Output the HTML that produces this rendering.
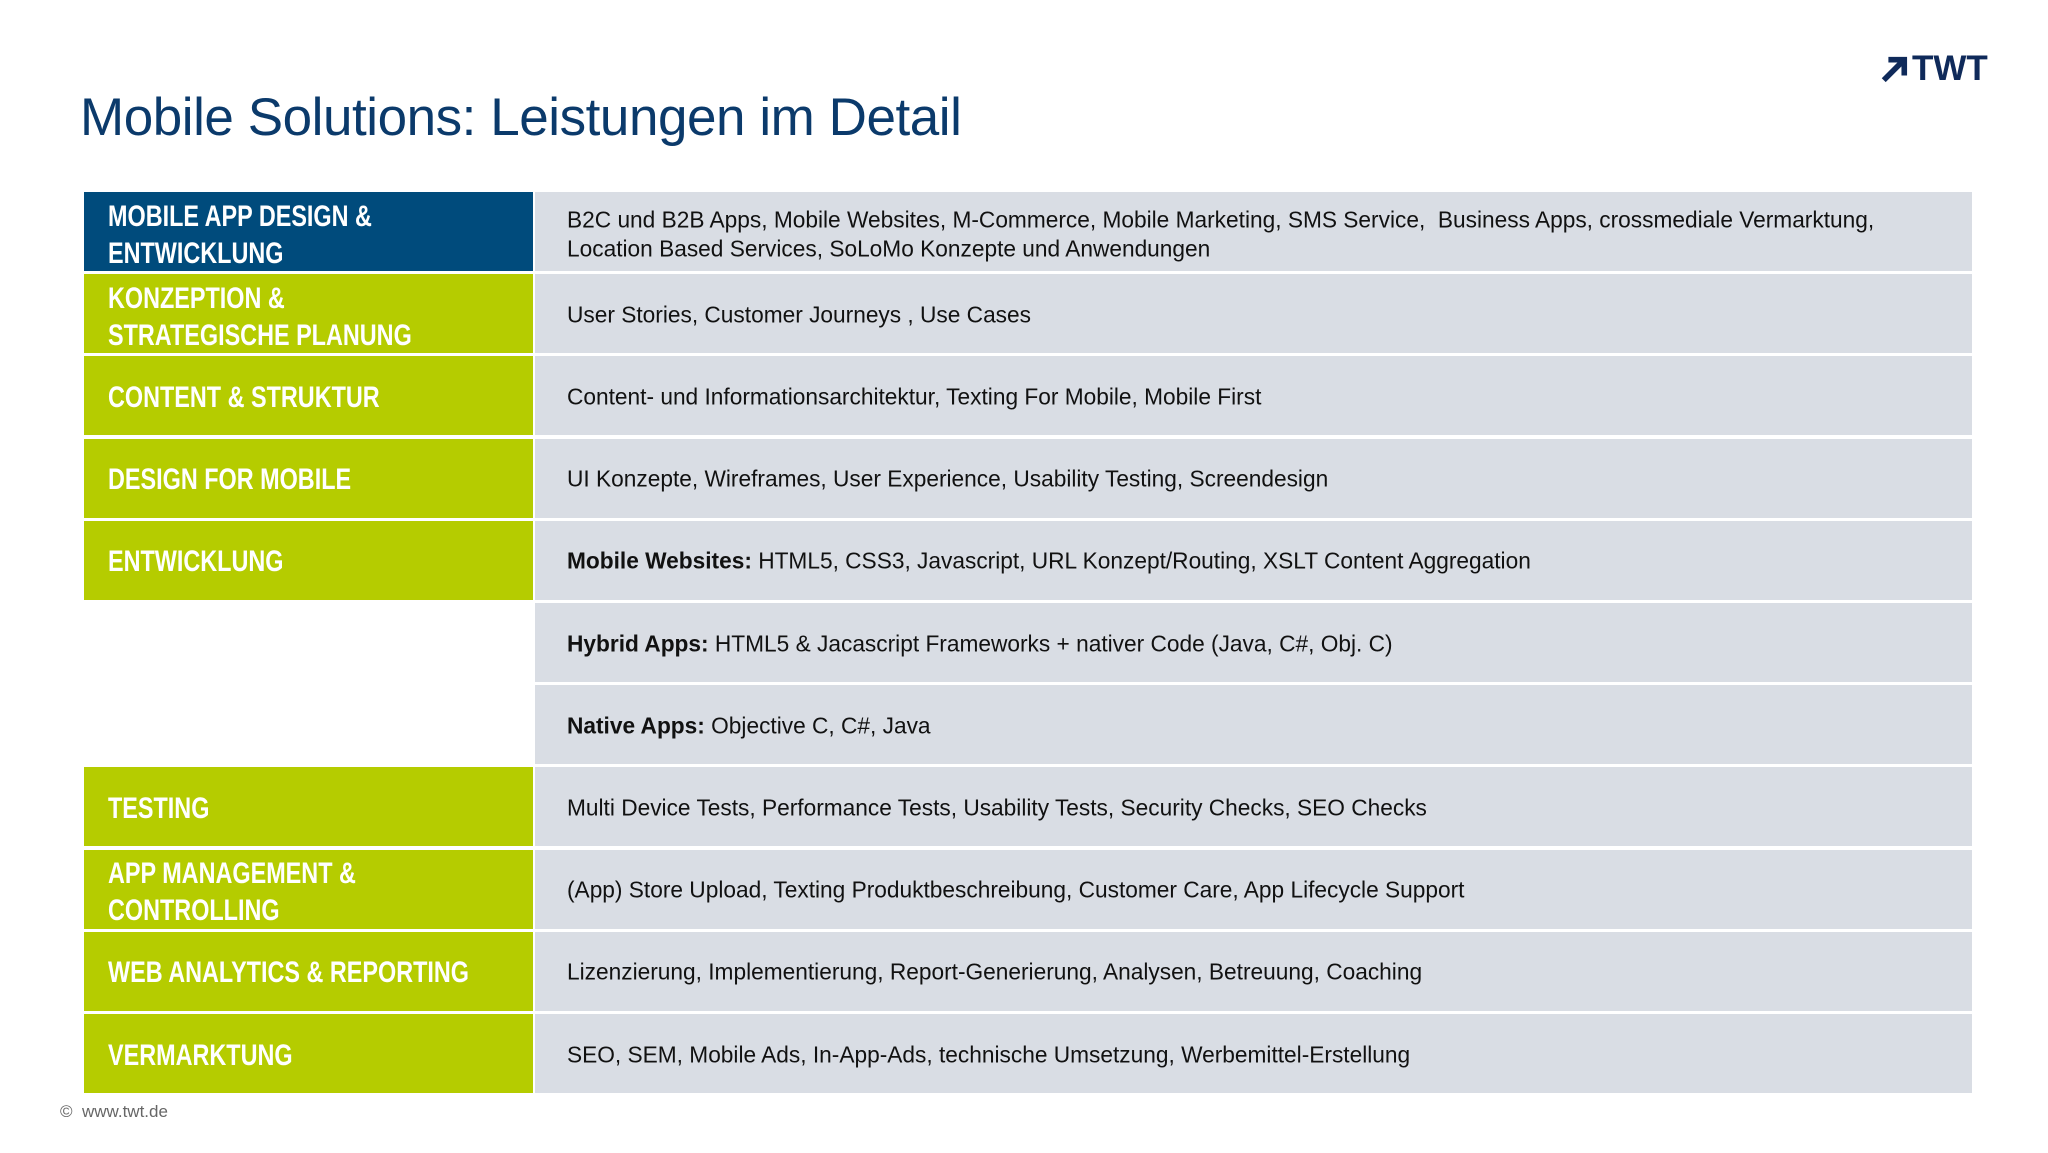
<!DOCTYPE html>
<html><head><meta charset="utf-8">
<style>
body{margin:0;width:2048px;height:1153px;background:#fff;position:relative;overflow:hidden;font-family:"Liberation Sans",sans-serif;}
.title{position:absolute;left:80px;top:87px;font-size:53px;color:#0b3a6b;letter-spacing:-0.45px;white-space:nowrap;}
.logo{position:absolute;left:1880px;top:50px;height:38px;display:flex;align-items:center;color:#0f2a5a;font-weight:bold;font-size:35px;}
.row{position:absolute;left:84px;width:1888px;height:79px;}
.lab{position:absolute;left:0;top:0;width:449px;height:79px;background:#b5cc00;}
.lab.blue{background:#004b7c;}
.lab span{position:absolute;left:24px;top:50%;transform:translateY(-46%) scaleX(0.78);transform-origin:left center;color:#fff;font-weight:bold;font-size:30px;line-height:37px;white-space:nowrap;}
.cont{position:absolute;left:451px;top:0;right:0;height:79px;background:#d9dde4;}
.cont span{position:absolute;left:32px;top:50%;transform:translateY(-46%);font-size:22.7px;line-height:29px;color:#111;white-space:nowrap;}
.foot{position:absolute;left:60px;top:1102px;font-size:17px;color:#666;}
</style></head><body>
<div class="title">Mobile Solutions: Leistungen im Detail</div>
<div class="logo"><svg width="28" height="28" viewBox="0 0 30 30"><path d="M4 27 L24 7 M9 5 H26 V22" stroke="#0f2a5a" stroke-width="6" fill="none"/></svg><span style="margin-left:4px">TWT</span></div>

<div id="table"></div>
<div class="foot">©&nbsp; www.twt.de</div>
<script>
const labels=["MOBILE APP DESIGN &<br>ENTWICKLUNG","KONZEPTION &<br>STRATEGISCHE PLANUNG","CONTENT & STRUKTUR","DESIGN FOR MOBILE","ENTWICKLUNG","","","TESTING","APP MANAGEMENT &<br>CONTROLLING","WEB ANALYTICS & REPORTING","VERMARKTUNG"];
const contents=["B2C und B2B Apps, Mobile Websites, M-Commerce, Mobile Marketing, SMS Service,&nbsp; Business Apps, crossmediale Vermarktung,<br>Location Based Services, SoLoMo Konzepte und Anwendungen","User Stories, Customer Journeys , Use Cases","Content- und Informationsarchitektur, Texting For Mobile, Mobile First","UI Konzepte, Wireframes, User Experience, Usability Testing, Screendesign","<b>Mobile Websites:</b> HTML5, CSS3, Javascript, URL Konzept/Routing, XSLT Content Aggregation","<b>Hybrid Apps:</b> HTML5 &amp; Jacascript Frameworks + nativer Code (Java, C#, Obj. C)","<b>Native Apps:</b> Objective C, C#, Java","Multi Device Tests, Performance Tests, Usability Tests, Security Checks, SEO Checks","(App) Store Upload, Texting Produktbeschreibung, Customer Care, App Lifecycle Support","Lizenzierung, Implementierung, Report-Generierung, Analysen, Betreuung, Coaching","SEO, SEM, Mobile Ads, In-App-Ads, technische Umsetzung, Werbemittel-Erstellung"];
const t=document.getElementById('table');
labels.forEach((l,i)=>{
  const r=document.createElement('div');r.className='row';r.style.top=(192+i*82.2)+'px';
  
  
  if(l){const a=document.createElement('div');a.className='lab'+(i===0?' blue':'');a.innerHTML='<span>'+l+'</span>';
    
    
    r.appendChild(a);}
  const c=document.createElement('div');c.className='cont';c.innerHTML='<span>'+contents[i]+'</span>';
  
  
  r.appendChild(c);t.appendChild(r);
});
</script>
</body></html>
